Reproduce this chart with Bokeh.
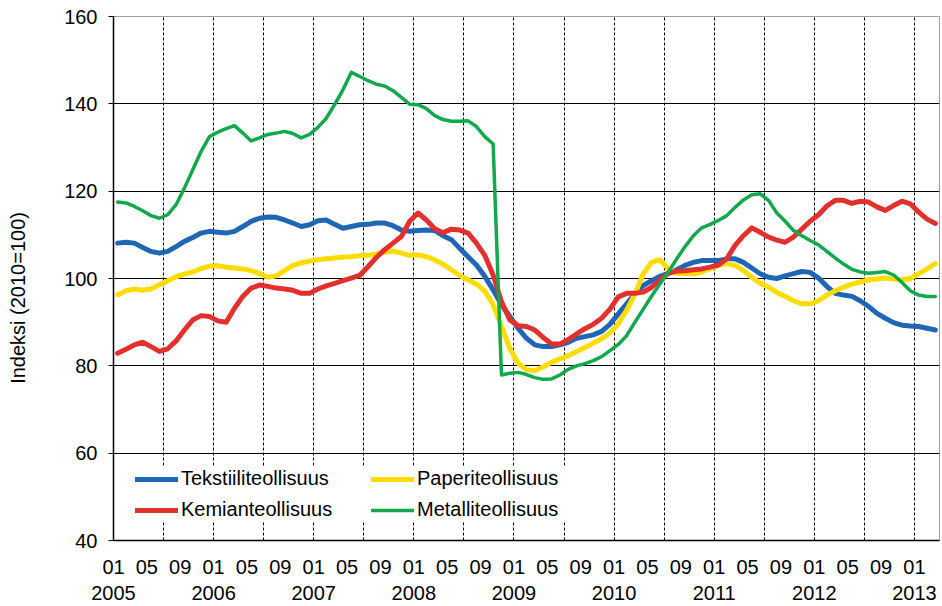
from bokeh.plotting import figure
from bokeh.models import Range1d, FixedTicker, Legend, LegendItem, ColumnDataSource
from bokeh.embed import file_html
from bokeh.resources import INLINE

# Monthly index values, 2005-01 ... 2013-03 (2010=100)
years = [2005, 2006, 2007, 2008, 2009, 2010, 2011, 2012, 2013]
month_labels = ["01", "05", "09"]

tekstiili = [108.1, 108.3, 108.1, 107.1, 106.2, 105.8, 106.2, 107.3, 108.5, 109.4, 110.4, 110.8,
             110.6, 110.4, 110.8, 111.9, 113.1, 113.8, 114.1, 114.0, 113.4, 112.7, 111.9, 112.3,
             113.2, 113.4, 112.4, 111.5, 111.9, 112.3, 112.4, 112.7, 112.7, 112.1, 111.1, 110.8,
             111.0, 111.1, 111.0, 109.8, 108.9, 106.9, 105.0, 103.1, 100.5, 97.4, 94.0, 91.3,
             88.6, 86.3, 84.8, 84.4, 84.4, 84.8, 85.4, 86.3, 86.7, 87.1, 87.9, 89.5,
             91.9, 94.2, 96.5, 98.4, 99.5, 100.5, 101.2, 102.0, 103.0, 103.7, 104.1, 104.1,
             104.1, 104.5, 104.5, 103.7, 102.4, 101.1, 100.3, 100.0, 100.6, 101.1, 101.6, 101.4,
             100.1, 98.2, 96.6, 96.2, 95.9, 94.9, 93.6, 92.0, 90.9, 89.9, 89.3, 89.1,
             89.0, 88.6, 88.2]

paperi = [96.3, 97.2, 97.6, 97.3, 97.6, 98.6, 99.5, 100.4, 101.0, 101.5, 102.3, 102.8,
          102.9, 102.6, 102.4, 102.2, 101.8, 101.1, 100.3, 100.6, 101.8, 103.0, 103.6, 104.0,
          104.3, 104.5, 104.7, 104.9, 105.0, 105.2, 105.3, 105.6, 106.0, 106.3, 105.8, 105.3,
          105.4, 105.0, 104.3, 103.3, 102.0, 100.7, 99.7, 98.7, 97.1, 94.0, 89.0, 84.0,
          80.6, 79.1, 78.9, 79.8, 80.8, 81.6, 82.3, 83.3, 84.2, 85.2, 86.2, 87.5,
          89.6, 92.7, 96.5, 101.1, 103.7, 104.3, 102.2, 101.2, 101.1, 101.1, 101.5, 102.2,
          103.0, 103.4, 103.0, 101.8, 100.3, 98.9, 98.0, 96.8, 95.9, 94.9, 94.2, 94.2,
          94.9, 96.2, 97.2, 98.0, 98.7, 99.2, 99.7, 99.9, 100.1, 99.9, 99.7, 100.0,
          101.1, 102.2, 103.4]

kemian = [82.9, 83.8, 84.8, 85.4, 84.4, 83.3, 83.9, 85.7, 88.2, 90.5, 91.5, 91.3,
          90.3, 90.0, 93.2, 95.9, 97.8, 98.5, 98.2, 97.8, 97.6, 97.3, 96.6, 96.6,
          97.6, 98.3, 98.9, 99.5, 100.1, 100.7, 102.7, 104.8, 106.6, 108.1, 109.6, 113.1,
          115.0, 113.4, 111.4, 110.5, 111.3, 111.1, 110.4, 108.1, 105.3, 100.8, 94.7, 90.5,
          89.2, 89.0, 88.2, 86.5, 85.0, 85.0, 86.0, 87.3, 88.5, 89.5, 90.9, 93.0,
          95.8, 96.6, 96.6, 96.9, 98.0, 99.7, 101.2, 101.7, 101.8, 102.0, 102.2, 102.6,
          103.1, 104.5, 107.6, 109.8, 111.6, 110.6, 109.5, 108.8, 108.3, 109.5, 111.3, 113.1,
          114.6, 116.6, 117.9, 117.9, 117.2, 117.7, 117.5, 116.4, 115.6, 116.7, 117.7, 117.1,
          115.2, 113.6, 112.6]

metalli = [117.5, 117.3, 116.5, 115.5, 114.4, 113.8, 114.6, 116.9, 120.7, 124.9, 129.1, 132.5,
           133.5, 134.3, 135.0, 133.3, 131.5, 132.2, 133.0, 133.3, 133.7, 133.2, 132.2, 133.0,
           134.6, 136.7, 139.8, 143.2, 147.2, 146.3, 145.3, 144.5, 144.1, 143.0, 141.5, 139.9,
           139.8, 138.9, 137.3, 136.4, 136.0, 136.0, 136.1, 134.8, 132.5, 130.8, 77.9, 78.3,
           78.5, 78.0, 77.3, 76.9, 77.0, 77.9, 79.2, 80.0, 80.5, 81.2, 82.1, 83.5,
           84.9, 86.9, 90.0, 93.0, 96.0, 98.8, 101.5, 104.5, 107.3, 109.8, 111.6, 112.4,
           113.3, 114.4, 116.3, 118.0, 119.2, 119.4, 117.9, 115.0, 113.1, 111.0, 109.8, 108.7,
           107.7, 106.2, 104.7, 103.3, 102.1, 101.5, 101.2, 101.4, 101.6, 100.8, 99.1, 97.2,
           96.2, 95.9, 95.9]

n = len(tekstiili)
# category positions: each month occupies one unit, point at its centre
src = ColumnDataSource(dict(
    x=[i + 0.5 for i in range(n)],
    tekstiili=tekstiili, paperi=paperi, kemian=kemian, metalli=metalli,
))

FONT = "Liberation Sans"
FS = "20px"

p = figure(width=942, height=606, output_backend="svg", toolbar_location=None,
           x_range=Range1d(0, n), y_range=Range1d(40, 160),
           min_border_left=113, min_border_right=3, min_border_top=16, min_border_bottom=66)
p.background_fill_color = "white"
p.border_fill_color = "white"
p.outline_line_color = "#a0a0a0"
p.outline_line_width = 1

# x axis
tick_pos = list(range(0, n, 4))
overrides = {}
for k in tick_pos:
    lab = month_labels[(k % 12) // 4]
    if k % 12 == 0:
        lab = lab + "\n" + str(years[k // 12])
    overrides[k] = lab
p.xaxis.ticker = FixedTicker(ticks=tick_pos)
p.xaxis.major_label_overrides = overrides
p.xaxis.major_tick_out = 0
p.xaxis.major_tick_in = 0
p.xaxis.minor_tick_out = 0
p.xaxis.minor_tick_in = 0
p.xaxis.axis_line_color = "black"
p.xaxis.axis_line_width = 1.5
p.xaxis.major_label_text_font = FONT
p.xaxis.major_label_text_font_size = FS
p.xaxis.major_label_text_color = "black"
p.xaxis.major_label_text_line_height = 1.2
p.xaxis.major_label_standoff = 15

# y axis
p.yaxis.ticker = FixedTicker(ticks=[40, 60, 80, 100, 120, 140, 160])
p.yaxis.major_tick_out = 5
p.yaxis.major_tick_in = 0
p.yaxis.minor_tick_out = 0
p.yaxis.minor_tick_in = 0
p.yaxis.major_tick_line_color = "black"
p.yaxis.axis_line_color = "black"
p.yaxis.axis_line_width = 1.5
p.yaxis.major_label_text_font = FONT
p.yaxis.major_label_text_font_size = FS
p.yaxis.major_label_text_color = "black"
p.yaxis.major_label_standoff = 11
p.yaxis.axis_label = "Indeksi (2010=100)" + "\u00a0" * 7
p.yaxis.axis_label_text_font = FONT
p.yaxis.axis_label_text_font_size = FS
p.yaxis.axis_label_text_font_style = "normal"
p.yaxis.axis_label_text_color = "black"
p.yaxis.axis_label_standoff = 32

# grids
p.xgrid.ticker = FixedTicker(ticks=list(range(6, n, 6)))
p.xgrid.grid_line_color = "black"
p.xgrid.grid_line_dash = "3 2"
p.xgrid.grid_line_width = 1
p.ygrid.ticker = FixedTicker(ticks=[60, 80, 100, 120, 140])
p.ygrid.grid_line_color = "black"
p.ygrid.grid_line_width = 1

r_tek = p.line("x", "tekstiili", source=src, line_color="#1f66b5", line_width=5,
               line_cap="round", line_join="round")
r_pap = p.line("x", "paperi", source=src, line_color="#ffdc00", line_width=5,
               line_cap="round", line_join="round")
r_kem = p.line("x", "kemian", source=src, line_color="#e1302e", line_width=5,
               line_cap="round", line_join="round")
r_met = p.line("x", "metalli", source=src, line_color="#13a84b", line_width=3.5,
               line_cap="round", line_join="round")

legend = Legend(items=[
    LegendItem(label="Tekstiiliteollisuus", renderers=[r_tek]),
    LegendItem(label="Kemianteollisuus", renderers=[r_kem]),
    LegendItem(label="Paperiteollisuus", renderers=[r_pap]),
    LegendItem(label="Metalliteollisuus", renderers=[r_met]),
], location=(22, 19), orientation="vertical", nrows=2)
legend.margin = 0
legend.padding = 6
legend.spacing = 8
legend.glyph_width = 43
legend.glyph_height = 20
legend.label_height = 20
legend.label_width = 182
legend.label_standoff = 3
legend.label_text_font = FONT
legend.label_text_font_size = FS
legend.label_text_color = "black"
legend.border_line_color = None
legend.background_fill_color = "white"
legend.background_fill_alpha = 1.0
p.add_layout(legend)

open("out.html", "w").write(file_html(p, INLINE))
